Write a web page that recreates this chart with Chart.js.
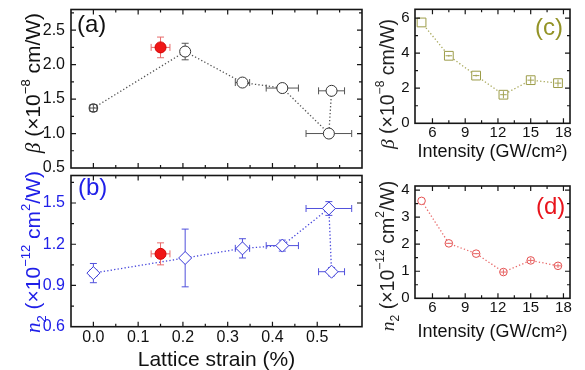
<!DOCTYPE html>
<html>
<head>
<meta charset="utf-8">
<title>Nonlinear coefficients vs lattice strain and intensity</title>
<script src="https://cdn.jsdelivr.net/npm/chart.js@4.4.1/dist/chart.umd.min.js"></script>
<style>
  html, body { margin: 0; padding: 0; background: #fff; }
  body { position: relative; width: 585px; height: 370px; overflow: hidden; font-family: "Liberation Sans", Arial, sans-serif; }
  canvas { position: absolute; }
  .ytitle { position: absolute; white-space: nowrap; line-height: 1; transform: translate(-50%, -50%) rotate(-90deg); }
  .ytitle sup, .ytitle sub { position: relative; font-size: 62%; line-height: 0; vertical-align: baseline; }
  .ytitle sup { top: -0.8em; }
  .ytitle sub { top: 0.45em; }
  .sym { font-family: "Liberation Serif", "DejaVu Serif", serif; font-style: italic; }
  .tag { position: absolute; line-height: 1; font-size: 24px; }
</style>
</head>
<body>
<canvas id="chartA" width="370" height="178" style="left:0;top:0"></canvas>
<canvas id="chartB" width="370" height="202" style="left:0;top:168px"></canvas>
<canvas id="chartC" width="205" height="163" style="left:380px;top:0"></canvas>
<canvas id="chartD" width="205" height="168" style="left:380px;top:175px"></canvas>

<div class="ytitle" style="left:33px;top:83px;font-size:21px;color:#111"><span class="sym">β</span> (×10<sup>−8</sup> cm/W)</div>
<div class="ytitle" style="left:33px;top:252px;font-size:21px;color:#2020e8"><span class="sym">n</span><sub>2</sub> (×10<sup>−12</sup> cm<sup>2</sup>/W)</div>
<div class="ytitle" style="left:388px;top:84px;font-size:19.5px;color:#222"><span class="sym">β</span> (×10<sup>−8</sup> cm/W)</div>
<div class="ytitle" style="left:388px;top:256px;font-size:19.5px;color:#222"><span class="sym">n</span><sub>2</sub> (×10<sup>−12</sup> cm<sup>2</sup>/W)</div>

<div class="tag" style="left:77px;top:12px;color:#111">(a)</div>
<div class="tag" style="left:78px;top:175px;color:#2020e8">(b)</div>
<div class="tag" style="left:535px;top:15px;color:#939326">(c)</div>
<div class="tag" style="left:536px;top:194px;color:#e8141c">(d)</div>

<script>
// lattice strain (%) of the strained films, with horizontal error
const strain = [0, 0.205, 0.333, 0.422, 0.526, 0.532];
const strainErr = [0.008, 0.006, 0.016, 0.036, 0.051, 0.029];
// (a) beta, 1e-8 cm/W
const beta = [1.37, 2.19, 1.74, 1.66, 1.00, 1.62];
const betaErr = [0.05, 0.12, 0.05, 0.03, 0.03, 0.04];
// (b) n2, 1e-12 cm2/W
const n2 = [0.99, 1.10, 1.17, 1.19, 1.46, 1.00];
const n2Err = [0.07, 0.21, 0.07, 0.04, 0.05, 0.03];
// reference sample (red filled point)
const refStrain = [0.15];
const refStrainErr = [0.021];
const refBeta = [2.25];
const refBetaErr = [0.15];
const refN2 = [1.13];
const refN2Err = [0.08];
// (c), (d) versus intensity, GW/cm2
const intensity = [5, 7.5, 10, 12.5, 15, 17.5];
const intensityErr = [0, 0.3, 0.3, 0.3, 0.3, 0.3];
const betaI = [5.75, 3.85, 2.72, 1.63, 2.46, 2.29];
const betaIErr = [0, 0.05, 0.05, 0.2, 0.2, 0.2];
const n2I = [3.60, 2.03, 1.65, 0.97, 1.40, 1.20];
const n2IErr = [0, 0.02, 0.02, 0.1, 0.1, 0.08];

const FAMILY = "'Liberation Sans', Arial, sans-serif";

// box round the plot area with inward ticks on all four sides
const frame = {
    id: 'frame',
    afterDatasetsDraw(chart, args, opts) {
        const { ctx, chartArea: a } = chart;
        const sx = chart.scales.x, sy = chart.scales.y;
        const isMajor = (v, step) => Math.abs(v / step - Math.round(v / step)) < 1e-6;
        ctx.save();
        ctx.strokeStyle = '#161616';
        ctx.lineWidth = 1.2;
        ctx.beginPath();
        sx.ticks.forEach(t => {
            const p = sx.getPixelForValue(t.value);
            if (p < a.left + 2 || p > a.right - 2) return;
            const len = isMajor(t.value, opts.xMajor) ? 5 : 3;
            ctx.moveTo(p, a.bottom); ctx.lineTo(p, a.bottom - len);
            ctx.moveTo(p, a.top); ctx.lineTo(p, a.top + len);
        });
        sy.ticks.forEach(t => {
            const p = sy.getPixelForValue(t.value);
            if (p < a.top + 2 || p > a.bottom - 2) return;
            const len = isMajor(t.value, opts.yMajor) ? 5 : 3;
            ctx.moveTo(a.left, p); ctx.lineTo(a.left + len, p);
            ctx.moveTo(a.right, p); ctx.lineTo(a.right - len, p);
        });
        ctx.stroke();
        ctx.lineWidth = 1.6;
        ctx.strokeRect(a.left, a.top, a.right - a.left, a.bottom - a.top);
        ctx.restore();
    }
};

function axis(o) {
    return {
        type: 'linear',
        min: o.min,
        max: o.max,
        grid: { display: false, drawTicks: false },
        border: { display: false },
        ticks: {
            stepSize: o.step,
            includeBounds: false,
            autoSkip: false,
            maxRotation: 0,
            display: o.labels !== false,
            padding: o.pad || 0,
            color: o.color || '#111',
            font: { family: FAMILY, size: o.size || 16 },
            callback: o.label || (() => '')
        },
        title: o.title ? {
            display: true,
            text: o.title,
            color: '#111',
            font: { family: FAMILY, size: o.titleSize },
            padding: { top: 0, bottom: o.titlePad || 0 }
        } : { display: false },
        afterFit: s => {
            if (o.width !== undefined) s.width = o.width;
            if (o.height !== undefined) s.height = o.height;
            s.paddingLeft = s.paddingRight = s.paddingTop = s.paddingBottom = 0;
        }
    };
}

const pts = (xs, ys) => xs.map((x, i) => ({ x: x, y: ys[i] }));

function dottedLine(xs, ys, color) {
    return {
        data: pts(xs, ys), showLine: true, pointRadius: 0,
        borderColor: color, borderWidth: 1.3, borderDash: [1.3, 2.2], order: 3
    };
}

function errorBars(xs, ys, xErr, yErr, color, cap, order) {
    const base = {
        showLine: true, borderColor: color, borderWidth: 1,
        pointStyle: 'line', pointRadius: cap, pointBorderColor: color, pointBorderWidth: 1, order: order
    };
    const sets = [];
    xs.forEach((x, i) => {
        const y = ys[i];
        if (yErr[i]) sets.push(Object.assign({}, base, { pointRotation: 0, data: [{ x: x, y: y - yErr[i] }, { x: x, y: y + yErr[i] }] }));
        if (xErr[i]) sets.push(Object.assign({}, base, { pointRotation: 90, data: [{ x: x - xErr[i], y: y }, { x: x + xErr[i], y: y }] }));
    });
    return sets;
}

function makeChart(id, datasets, x, y, padding, majors) {
    return new Chart(document.getElementById(id), {
        type: 'scatter',
        data: { datasets: datasets },
        options: {
            responsive: false,
            animation: false,
            events: [],
            layout: { padding: padding },
            plugins: { legend: { display: false }, tooltip: { enabled: false }, frame: majors },
            scales: { x: x, y: y }
        },
        plugins: [frame]
    });
}

const strainLabel = v => { const k = Math.round(v * 100); return (k % 10 === 0 && k >= 0 && k <= 50) ? (k / 100).toFixed(1) : ''; };
const intensityLabel = v => Math.abs(v / 3 - Math.round(v / 3)) < 1e-6 ? String(Math.round(v)) : '';

// (a)
makeChart('chartA', [
    { data: pts(refStrain, refBeta), pointStyle: 'circle', pointRadius: 5.5, pointBackgroundColor: '#f01616', pointBorderColor: '#d40000', pointBorderWidth: 1, order: 1 },
    { data: pts(strain, beta), pointStyle: 'circle', pointRadius: [4.3, 5.5, 5.5, 5.5, 5.5, 5.5],
      pointBackgroundColor: ['rgba(255,255,255,0)', '#fff', '#fff', '#fff', '#fff', '#fff'], pointBorderColor: '#333', pointBorderWidth: 1, order: 1 },
    ...errorBars(refStrain, refBeta, refStrainErr, refBetaErr, '#e86a6a', 3.5, 2),
    ...errorBars(strain, beta, strainErr, betaErr, '#555', 3.5, 2),
    dottedLine(strain, beta, '#555')
],
    axis({ min: -0.05, max: 0.6, step: 0.05, labels: false, height: 10 }),
    axis({ min: 0.5, max: 2.8, step: 0.25, pad: 6, width: 71,
           label: v => { const k = Math.round(v * 100); return (k % 50 === 0 && k <= 250) ? (k / 100).toFixed(1) : ''; } }),
    { top: 9.5, right: 8, left: 0, bottom: 0 },
    { xMajor: 0.1, yMajor: 0.5 });

// (b)
makeChart('chartB', [
    { data: pts(refStrain, refN2), pointStyle: 'circle', pointRadius: 5.5, pointBackgroundColor: '#f01616', pointBorderColor: '#d40000', pointBorderWidth: 1, order: 1 },
    { data: pts(strain, n2), pointStyle: 'rectRot', pointRadius: 6.5, pointBackgroundColor: '#fff', pointBorderColor: '#3a3ad8', pointBorderWidth: 1, order: 1 },
    ...errorBars(refStrain, refN2, refStrainErr, refN2Err, '#e86a6a', 3.5, 2),
    ...errorBars(strain, n2, strainErr, n2Err, '#5050dc', 3.5, 2),
    dottedLine(strain, n2, '#4646dc')
],
    axis({ min: -0.05, max: 0.6, step: 0.05, pad: 1, height: 43.3, label: strainLabel,
           title: 'Lattice strain (%)', titleSize: 21, titlePad: -2.6 }),
    axis({ min: 0.6, max: 1.7, step: 0.15, pad: 6, width: 71, color: '#2020e8',
           label: v => { const k = Math.round(v * 100); return (k % 30 === 0 && k <= 150) ? (k / 100).toFixed(1) : ''; } }),
    { top: 0, right: 8, left: 0, bottom: 0 },
    { xMajor: 0.1, yMajor: 0.3 });

// (c)
makeChart('chartC', [
    ...errorBars(intensity, betaI, intensityErr, betaIErr, '#a3a352', 0, 0),
    { data: pts(intensity, betaI), pointStyle: 'rect', pointRadius: 6.2, pointBackgroundColor: '#fff', pointBorderColor: '#9c9c48', pointBorderWidth: 1, order: 1 },
    dottedLine(intensity, betaI, '#a8a85a')
],
    axis({ min: 4.4, max: 18.6, step: 1.5, pad: 1, size: 15, height: 39.7, label: intensityLabel,
           title: 'Intensity (GW/cm²)', titleSize: 18, titlePad: 0 }),
    axis({ min: 0, max: 6.5, step: 1, pad: 5.5, size: 15, width: 35,
           label: v => (Math.round(v) % 2 === 0 ? String(Math.round(v)) : '') }),
    { top: 9.3, right: 15, left: 0, bottom: 0 },
    { xMajor: 3, yMajor: 2 });

// (d)
makeChart('chartD', [
    ...errorBars(intensity, n2I, intensityErr, n2IErr, '#e86a6a', 0, 0),
    { data: pts(intensity, n2I), pointStyle: 'circle', pointRadius: 3.8, pointBackgroundColor: '#fff', pointBorderColor: '#e45050', pointBorderWidth: 1, order: 1 },
    dottedLine(intensity, n2I, '#e86a6a')
],
    axis({ min: 4.4, max: 18.6, step: 1.5, pad: 0.5, size: 15, height: 44.7, label: intensityLabel,
           title: 'Intensity (GW/cm²)', titleSize: 18, titlePad: 0 }),
    axis({ min: 0, max: 4.15, step: 0.5, pad: 5.5, size: 15, width: 35,
           label: v => (Math.abs(v - Math.round(v)) < 1e-6 ? String(Math.round(v)) : '') }),
    { top: 11, right: 15, left: 0, bottom: 0 },
    { xMajor: 3, yMajor: 1 });
</script>
</body>
</html>
